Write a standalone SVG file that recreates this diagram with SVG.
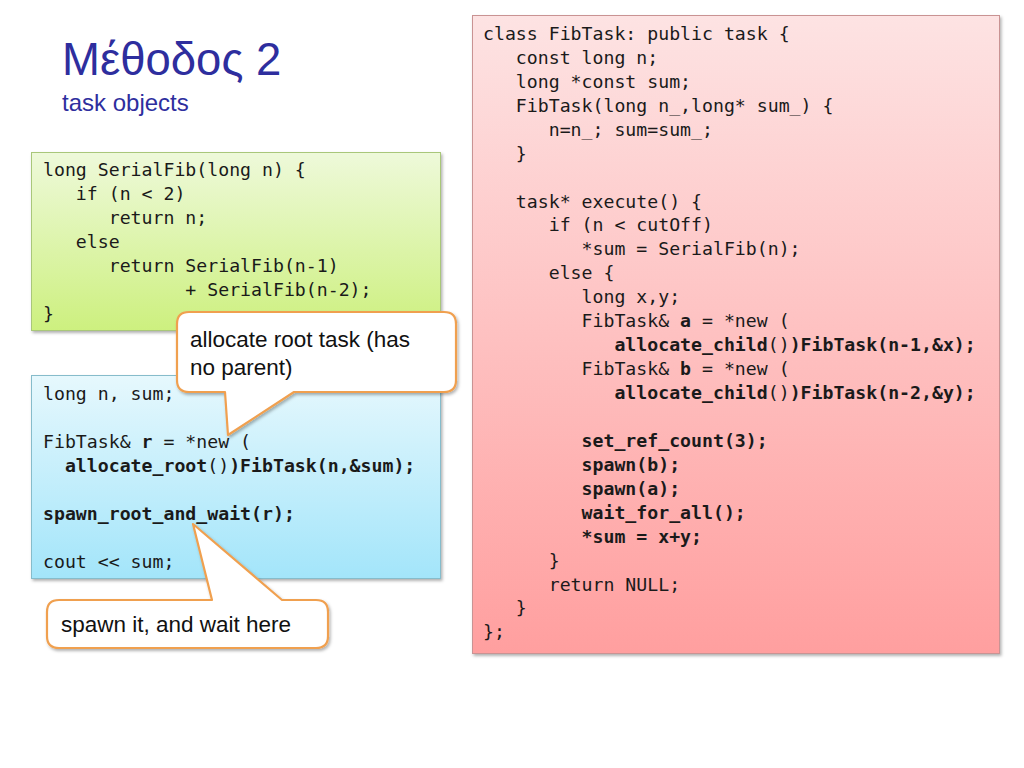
<svg xmlns="http://www.w3.org/2000/svg" width="1024" height="768" viewBox="0 0 1024 768">
<defs>
<linearGradient id="gGreen" x1="0" y1="0" x2="0" y2="1"><stop offset="0" stop-color="#eef9da"/><stop offset="1" stop-color="#cdf07f"/></linearGradient>
<linearGradient id="gBlue" x1="0" y1="0" x2="0" y2="1"><stop offset="0" stop-color="#e6f8fd"/><stop offset="1" stop-color="#a3e5fa"/></linearGradient>
<linearGradient id="gPink" x1="0" y1="0" x2="0" y2="1"><stop offset="0" stop-color="#fde3e3"/><stop offset="1" stop-color="#ff9f9f"/></linearGradient>
<filter id="sh" x="-5%" y="-5%" width="110%" height="110%"><feDropShadow dx="1.5" dy="2" stdDeviation="1.5" flood-color="#000" flood-opacity="0.3"/></filter>
</defs>
<style>
.code{font-family:"DejaVu Sans Mono","Liberation Mono",monospace;font-size:18.2px;fill:#1a1a1a;white-space:pre}
.b{font-weight:bold}
.call{font-family:"Liberation Sans",Arial,sans-serif;font-size:22.5px;fill:#111}
.bubble{fill:#fff;stroke:#f0a050;stroke-width:2.2;stroke-linejoin:round}
</style>
<rect width="1024" height="768" fill="#fff"/>
<g id="title">
<text x="62" y="75" font-family="Liberation Sans,Arial,sans-serif" font-size="45.5" fill="#2e2e9e">Μέθοδος 2</text>
<text x="62" y="111" font-family="Liberation Sans,Arial,sans-serif" font-size="24" fill="#2e2e9e">task objects</text>
</g>
<g id="serialfib">
<rect x="31.5" y="152.5" width="409" height="178" fill="url(#gGreen)" stroke="#a9c77a" stroke-width="1" filter="url(#sh)"/>
<text class="code" x="43" y="176">long SerialFib(long n) {</text>
<text class="code" x="43" y="200">   if (n &lt; 2)</text>
<text class="code" x="43" y="224">      return n;</text>
<text class="code" x="43" y="248">   else</text>
<text class="code" x="43" y="272">      return SerialFib(n-1)</text>
<text class="code" x="43" y="296">             + SerialFib(n-2);</text>
<text class="code" x="43" y="320">}</text>
</g>
<g id="main">
<rect x="31.5" y="375.5" width="409" height="203" fill="url(#gBlue)" stroke="#86bccb" stroke-width="1" filter="url(#sh)"/>
<text class="code" x="43" y="400">long n, sum;</text>
<text class="code" x="43" y="448">FibTask&amp; <tspan class="b">r</tspan> = *new (</text>
<text class="code" x="43" y="472">  <tspan class="b">allocate_root</tspan>()<tspan class="b">)FibTask(n,&amp;sum);</tspan></text>
<text class="code b" x="43" y="520">spawn_root_and_wait(r);</text>
<text class="code" x="43" y="568">cout &lt;&lt; sum;</text>
</g>
<g id="fibtask">
<rect x="472.5" y="15.5" width="527" height="638" fill="url(#gPink)" stroke="#c99393" stroke-width="1" filter="url(#sh)"/>
<text class="code" x="483" y="40">class FibTask: public task {</text>
<text class="code" x="483" y="64">   const long n;</text>
<text class="code" x="483" y="88">   long *const sum;</text>
<text class="code" x="483" y="112">   FibTask(long n_,long* sum_) {</text>
<text class="code" x="483" y="136">      n=n_; sum=sum_;</text>
<text class="code" x="483" y="160">   }</text>
<text class="code" x="483" y="208">   task* execute() {</text>
<text class="code" x="483" y="231">      if (n &lt; cutOff)</text>
<text class="code" x="483" y="255">         *sum = SerialFib(n);</text>
<text class="code" x="483" y="279">      else {</text>
<text class="code" x="483" y="303">         long x,y;</text>
<text class="code" x="483" y="327">         FibTask&amp; <tspan class="b">a</tspan> = *new (</text>
<text class="code" x="483" y="351">            <tspan class="b">allocate_child</tspan>()<tspan class="b">)FibTask(n-1,&amp;x);</tspan></text>
<text class="code" x="483" y="375">         FibTask&amp; <tspan class="b">b</tspan> = *new (</text>
<text class="code" x="483" y="399">            <tspan class="b">allocate_child</tspan>()<tspan class="b">)FibTask(n-2,&amp;y);</tspan></text>
<text class="code b" x="483" y="447">         set_ref_count(3);</text>
<text class="code b" x="483" y="471">         spawn(b);</text>
<text class="code b" x="483" y="495">         spawn(a);</text>
<text class="code b" x="483" y="519">         wait_for_all();</text>
<text class="code b" x="483" y="543">         *sum = x+y;</text>
<text class="code" x="483" y="567">      }</text>
<text class="code" x="483" y="591">      return NULL;</text>
<text class="code" x="483" y="614">   }</text>
<text class="code" x="483" y="638">};</text>
</g>
<g id="callout-root">
<path class="bubble" d="M189,312 H444 Q456,312 456,324 V380 Q456,392 444,392 H294 L228,435 L225,392 H189 Q177,392 177,380 V324 Q177,312 189,312 Z" filter="url(#sh)"/>
<text class="call" x="190" y="347">allocate root task (has</text>
<text class="call" x="190" y="375">no parent)</text>
</g>
<g id="callout-spawn">
<path class="bubble" d="M59,600 H212 L193,524 L282,600 H316 Q328,600 328,612 V636 Q328,648 316,648 H59 Q47,648 47,636 V612 Q47,600 59,600 Z" filter="url(#sh)"/>
<text class="call" x="61" y="632">spawn it, and wait here</text>
</g>
<g id="connectors"></g>
</svg>
